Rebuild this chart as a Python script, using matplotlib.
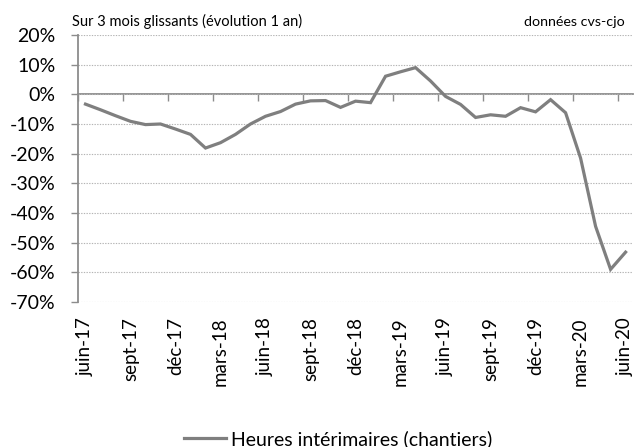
import matplotlib
matplotlib.use("Agg")
import matplotlib.pyplot as plt
from matplotlib.ticker import FixedLocator, FuncFormatter

plt.rcParams['font.family'] = ['Lato', 'DejaVu Sans']

# --- Data (monthly, juin-17 .. juin-20) ---
months = ["juin-17", "juil-17", "août-17", "sept-17", "oct-17", "nov-17",
          "déc-17", "janv-18", "févr-18", "mars-18", "avr-18", "mai-18",
          "juin-18", "juil-18", "août-18", "sept-18", "oct-18", "nov-18",
          "déc-18", "janv-19", "févr-19", "mars-19", "avr-19", "mai-19",
          "juin-19", "juil-19", "août-19", "sept-19", "oct-19", "nov-19",
          "déc-19", "janv-20", "févr-20", "mars-20", "avr-20", "mai-20",
          "juin-20"]
heures = [-3.3, -5.2, -7.2, -9.1, -10.2, -10.0,
          -11.7, -13.5, -18.1, -16.3, -13.5, -10.0,
          -7.4, -5.8, -3.3, -2.2, -2.1, -4.4,
          -2.3, -2.8, 6.1, 7.6, 9.0, 4.5,
          -0.7, -3.4, -7.8, -6.9, -7.4, -4.5,
          -5.9, -1.8, -6.2, -21.5, -44.5, -59.0,
          -53.2]
series_label = "Heures intérimaires (chantiers)"

LINE_COL = "#7f7f7f"
AXIS_COL = "#8c8c8c"
GRID_COL = "#b4b4b4"

fig = plt.figure(figsize=(6.35, 4.47), dpi=100)
ax = fig.add_axes([0.1228, 0.3244, 0.8742, 0.5973])

x = list(range(len(months)))
ax.plot(x, heures, color=LINE_COL, linewidth=2.3, solid_joinstyle="miter",
        label=series_label, zorder=3)

ax.set_xlim(-0.5, len(months) - 0.5)
ax.set_ylim(-70, 20)

# y axis
ax.set_yticks(range(-70, 21, 10))
ax.yaxis.set_major_formatter(FuncFormatter(lambda v, _: f"{v:.0f}%"))
ax.tick_params(axis="y", direction="out", length=5, color=AXIS_COL,
               width=1.0, labelsize=14, pad=11)
ax.yaxis.grid(True, linestyle=(0, (1.2, 1.2)), color=GRID_COL, linewidth=0.8)
ax.set_axisbelow(True)

for s in ["top", "right", "bottom"]:
    ax.spines[s].set_visible(False)
ax.spines["left"].set_color(AXIS_COL)
ax.spines["left"].set_linewidth(1.3)

# x labels at the bottom, every 3 months
label_pos = x[::3]
ax.set_xticks(label_pos)
ax.set_xticklabels([months[i] for i in label_pos], rotation=90)
ax.tick_params(axis="x", length=0, labelsize=13.5, pad=11)

# category axis crossing at 0 with tick marks between categories
sec = ax.secondary_xaxis(70 / 90)
sec.xaxis.set_major_locator(FixedLocator([p - 0.5 for p in label_pos]))
sec.tick_params(axis="x", direction="in", length=5, color=AXIS_COL,
                width=1.0, labeltop=False, labelbottom=False)
sec.spines["top"].set_color(AXIS_COL)
sec.spines["top"].set_linewidth(1.3)
sec.spines["bottom"].set_color(AXIS_COL)
sec.spines["bottom"].set_linewidth(1.3)

# annotations
fig.text(72 / 635, 1 - 26 / 447, "Sur 3 mois glissants (évolution 1 an)",
         fontsize=10.5, ha="left", va="baseline")
fig.text(625 / 635, 1 - 26 / 447, "données cvs-cjo",
         fontsize=10.3, ha="right", va="baseline")

fig.legend(loc="center", bbox_to_anchor=(338 / 635, 1 - 439 / 447),
           frameon=False, fontsize=14, handlelength=2.15, handletextpad=0.25,
           borderaxespad=0, borderpad=0)

fig.savefig("out.png", dpi=100)
